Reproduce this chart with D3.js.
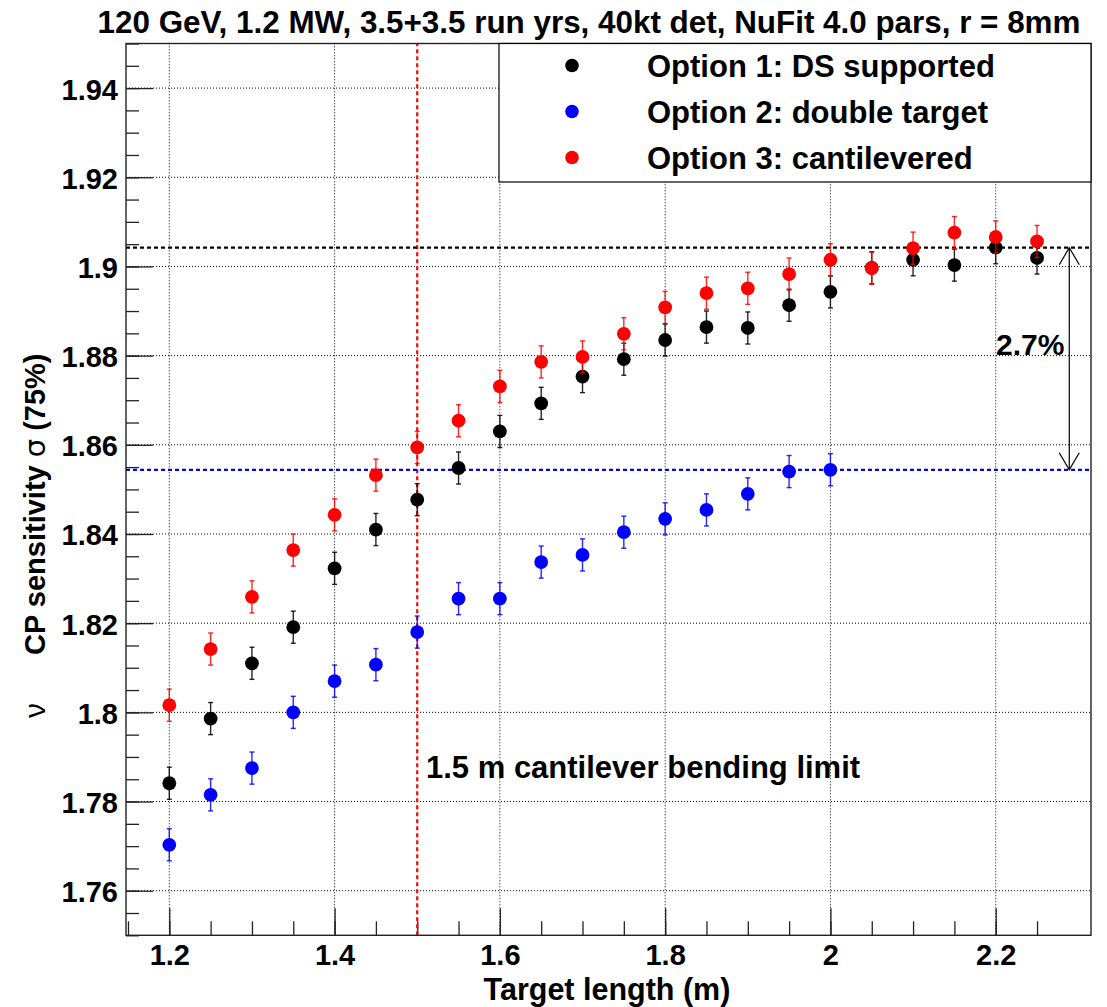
<!DOCTYPE html>
<html>
<head>
<meta charset="utf-8">
<script src="https://cdn.jsdelivr.net/npm/d3@7"></script>
<style>
  html, body { margin: 0; padding: 0; background: #fff; }
  svg { display: block; }
  text { font-family: "Liberation Sans", Arial, Helvetica, sans-serif; }
</style>
</head>
<body>
<div id="chart"></div>
<script>
// ---------------- DATA ----------------
const xOpt1 = [1.2, 1.25, 1.3, 1.35, 1.4, 1.45, 1.5, 1.55, 1.6, 1.65, 1.7, 1.75, 1.8, 1.85, 1.9, 1.95, 2.0, 2.05, 2.1, 2.15, 2.2, 2.25];
const yOpt1 = [1.7841, 1.7986, 1.8110, 1.8191, 1.8323, 1.8410, 1.8477, 1.8548, 1.8630, 1.8693, 1.8753, 1.8792, 1.8835, 1.8864, 1.8862, 1.8913, 1.8943, 1.8997, 1.9015, 1.9003, 1.9042, 1.9019];
const eOpt1 = [0.0036, 0.0036, 0.0036, 0.0036, 0.0036, 0.0036, 0.0036, 0.0036, 0.0036, 0.0036, 0.0036, 0.0036, 0.0036, 0.0036, 0.0036, 0.0036, 0.0036, 0.0036, 0.0036, 0.0036, 0.0036, 0.0036];

const xOpt2 = [1.2, 1.25, 1.3, 1.35, 1.4, 1.45, 1.5, 1.55, 1.6, 1.65, 1.7, 1.75, 1.8, 1.85, 1.9, 1.95, 2.0];
const yOpt2 = [1.7703, 1.7815, 1.7875, 1.8000, 1.8070, 1.8107, 1.8180, 1.8255, 1.8255, 1.8337, 1.8353, 1.8404, 1.8434, 1.8454, 1.8490, 1.8540, 1.8544];
const eOpt2 = [0.0036, 0.0036, 0.0036, 0.0036, 0.0036, 0.0036, 0.0036, 0.0036, 0.0036, 0.0036, 0.0036, 0.0036, 0.0036, 0.0036, 0.0036, 0.0036, 0.0036];

const xOpt3 = [1.2, 1.25, 1.3, 1.35, 1.4, 1.45, 1.5, 1.55, 1.6, 1.65, 1.7, 1.75, 1.8, 1.85, 1.9, 1.95, 2.0, 2.05, 2.1, 2.15, 2.2, 2.25];
const yOpt3 = [1.8016, 1.8142, 1.8259, 1.8364, 1.8443, 1.8532, 1.8594, 1.8654, 1.8731, 1.8786, 1.8797, 1.8849, 1.8908, 1.8940, 1.8951, 1.8983, 1.9015, 1.8996, 1.9041, 1.9076, 1.9066, 1.9056];
const eOpt3 = [0.0036, 0.0036, 0.0036, 0.0036, 0.0036, 0.0036, 0.0036, 0.0036, 0.0036, 0.0036, 0.0036, 0.0036, 0.0036, 0.0036, 0.0036, 0.0036, 0.0036, 0.0036, 0.0036, 0.0036, 0.0036, 0.0036];

const seriesNames = ["Option 1: DS supported", "Option 2: double target", "Option 3: cantilevered"];
const seriesColors = ["#000000", "#0000ff", "#ff0000"];

const xTickValues = [1.2, 1.4, 1.6, 1.8, 2.0, 2.2];
const xTickLabels = ["1.2", "1.4", "1.6", "1.8", "2", "2.2"];
const yTickValues = [1.76, 1.78, 1.80, 1.82, 1.84, 1.86, 1.88, 1.90, 1.92, 1.94];
const yTickLabels = ["1.76", "1.78", "1.8", "1.82", "1.84", "1.86", "1.88", "1.9", "1.92", "1.94"];

const titleText = "120 GeV, 1.2 MW, 3.5+3.5 run yrs, 40kt det, NuFit 4.0 pars, r = 8mm";
const xTitle = "Target length (m)";
const limitX = 1.5;
const limitText = "1.5 m cantilever bending limit";
const refOpt1 = 1.9042;
const refOpt2 = 1.8544;
const arrowX = 2.289;
const diffText = "2.7%";

// ---------------- LAYOUT ----------------
const W = 1107, H = 1007;
const frame = { left: 126, right: 1091, top: 43.5, bottom: 935.3 };

const svg = d3.select("#chart").append("svg")
  .attr("width", W).attr("height", H);

const x = d3.scaleLinear().domain([1.1476, 2.3153]).range([frame.left, frame.right]);
const y = d3.scaleLinear().domain([1.75, 1.95]).range([frame.bottom, frame.top]);

// Grid
const grid = svg.append("g").attr("class", "grid");
grid.selectAll("line.gx").data(xTickValues).enter().append("line")
  .attr("x1", d => x(d)).attr("x2", d => x(d))
  .attr("y1", frame.bottom).attr("y2", frame.top)
  .attr("stroke", "#000").attr("stroke-width", 1).attr("stroke-dasharray", "1,2");
grid.selectAll("line.gy").data(yTickValues).enter().append("line")
  .attr("x1", frame.left).attr("x2", frame.right)
  .attr("y1", d => y(d)).attr("y2", d => y(d))
  .attr("stroke", "#000").attr("stroke-width", 1).attr("stroke-dasharray", "1,2");

// Axes (ticks inside frame)
const xMinor = d3.range(23).map(i => +(1.15 + i * 0.05).toFixed(2)).filter(v => v <= 2.31);
const yMinor = d3.range(41).map(i => +(1.75 + i * 0.005).toFixed(3));

const xAxis = d3.axisBottom(x).tickValues(xTickValues)
  .tickFormat((d, i) => xTickLabels[i]).tickSizeInner(-27).tickSizeOuter(0).tickPadding(0);
const xAxisMinor = d3.axisBottom(x).tickValues(xMinor).tickFormat("").tickSizeInner(-14).tickSizeOuter(0);
const yAxis = d3.axisLeft(y).tickValues(yTickValues)
  .tickFormat((d, i) => yTickLabels[i]).tickSizeInner(-27).tickSizeOuter(0).tickPadding(0);
const yAxisMinor = d3.axisLeft(y).tickValues(yMinor).tickFormat("").tickSizeInner(-13).tickSizeOuter(0);

const gxm = svg.append("g").attr("transform", `translate(0,${frame.bottom})`).call(xAxisMinor);
const gx = svg.append("g").attr("transform", `translate(0,${frame.bottom})`).call(xAxis);
const gym = svg.append("g").attr("transform", `translate(${frame.left},0)`).call(yAxisMinor);
const gy = svg.append("g").attr("transform", `translate(${frame.left},0)`).call(yAxis);
[gxm, gx, gym, gy].forEach(g => {
  g.select(".domain").remove();
  g.selectAll(".tick line").attr("stroke", "#222").attr("stroke-width", 1.3);
});
gx.selectAll(".tick text")
  .attr("y", 30).attr("dy", 0)
  .attr("font-size", 29).attr("font-weight", "bold").attr("fill", "#000")
  .attr("font-family", "'Liberation Sans', Arial, sans-serif");
gy.selectAll(".tick text")
  .attr("x", -8).attr("dy", 11)
  .attr("font-size", 29).attr("font-weight", "bold").attr("fill", "#000")
  .attr("font-family", "'Liberation Sans', Arial, sans-serif");

// Reference lines
svg.append("line")
  .attr("x1", x(limitX)).attr("x2", x(limitX))
  .attr("y1", frame.bottom).attr("y2", frame.top)
  .attr("stroke", "#ff0000").attr("stroke-width", 2.2).attr("stroke-dasharray", "4,3");
svg.append("line")
  .attr("x1", frame.left).attr("x2", frame.right)
  .attr("y1", y(refOpt1)).attr("y2", y(refOpt1))
  .attr("stroke", "#000").attr("stroke-width", 2.2).attr("stroke-dasharray", "4,3");
svg.append("line")
  .attr("x1", frame.left).attr("x2", frame.right)
  .attr("y1", y(refOpt2)).attr("y2", y(refOpt2))
  .attr("stroke", "#0000ff").attr("stroke-width", 2.2).attr("stroke-dasharray", "4,3");

// Data series
const series = [
  { xs: xOpt1, ys: yOpt1, es: eOpt1, color: seriesColors[0] },
  { xs: xOpt2, ys: yOpt2, es: eOpt2, color: seriesColors[1] },
  { xs: xOpt3, ys: yOpt3, es: eOpt3, color: seriesColors[2] }
];
series.forEach(s => {
  const pts = s.xs.map((xv, i) => ({ x: xv, y: s.ys[i], e: s.es[i] }));
  const g = svg.append("g");
  const eb = g.selectAll("g.eb").data(pts).enter().append("g");
  eb.append("line")
    .attr("x1", d => x(d.x)).attr("x2", d => x(d.x))
    .attr("y1", d => y(d.y - d.e)).attr("y2", d => y(d.y + d.e))
    .attr("stroke", s.color).attr("stroke-width", 1.4).attr("stroke-opacity", 0.85);
  eb.append("line")
    .attr("x1", d => x(d.x) - 2.5).attr("x2", d => x(d.x) + 2.5)
    .attr("y1", d => y(d.y + d.e)).attr("y2", d => y(d.y + d.e))
    .attr("stroke", s.color).attr("stroke-width", 1.4).attr("stroke-opacity", 0.85);
  eb.append("line")
    .attr("x1", d => x(d.x) - 2.5).attr("x2", d => x(d.x) + 2.5)
    .attr("y1", d => y(d.y - d.e)).attr("y2", d => y(d.y - d.e))
    .attr("stroke", s.color).attr("stroke-width", 1.4).attr("stroke-opacity", 0.85);
  g.selectAll("circle").data(pts).enter().append("circle")
    .attr("cx", d => x(d.x)).attr("cy", d => y(d.y)).attr("r", 6.9)
    .attr("fill", s.color);
});

// Double arrow
const ax = x(arrowX), ay1 = y(refOpt1), ay2 = y(refOpt2);
svg.append("line").attr("x1", ax).attr("x2", ax).attr("y1", ay1).attr("y2", ay2)
  .attr("stroke", "#000").attr("stroke-width", 1.2);
svg.append("path")
  .attr("d", `M${ax - 10},${ay1 + 17} L${ax},${ay1} L${ax + 10},${ay1 + 17}`)
  .attr("fill", "none").attr("stroke", "#000").attr("stroke-width", 1.2);
svg.append("path")
  .attr("d", `M${ax - 10},${ay2 - 17} L${ax},${ay2} L${ax + 10},${ay2 - 17}`)
  .attr("fill", "none").attr("stroke", "#000").attr("stroke-width", 1.2);
svg.append("text").attr("x", 996).attr("y", 355)
  .attr("font-size", 30).attr("font-weight", "bold").text(diffText);

// Limit annotation
svg.append("text").attr("x", 426).attr("y", 778)
  .attr("font-size", 31).attr("font-weight", "bold").text(limitText);

// Frame
svg.append("rect")
  .attr("x", frame.left).attr("y", frame.top)
  .attr("width", frame.right - frame.left).attr("height", frame.bottom - frame.top)
  .attr("fill", "none").attr("stroke", "#222").attr("stroke-width", 1.4);

// Legend
const leg = svg.append("g");
leg.append("rect").attr("x", 499).attr("y", frame.top)
  .attr("width", frame.right - 499).attr("height", 182 - frame.top)
  .attr("fill", "#fff").attr("stroke", "#000").attr("stroke-width", 1.2);
seriesNames.forEach((name, i) => {
  const cy = 65.5 + i * 46;
  leg.append("circle").attr("cx", 572).attr("cy", cy).attr("r", 6.8).attr("fill", seriesColors[i]);
  leg.append("text").attr("x", 647).attr("y", cy + 11)
    .attr("font-size", 31).attr("font-weight", "bold").text(name);
});

// Title
svg.append("text").attr("x", 589).attr("y", 33)
  .attr("text-anchor", "middle").attr("font-size", 31.4).attr("font-weight", "bold")
  .text(titleText);

// X title
svg.append("text").attr("x", 607).attr("y", 1000)
  .attr("text-anchor", "middle").attr("font-size", 30.5).attr("font-weight", "bold")
  .text(xTitle);

// Y title (rotated)
const yt = svg.append("g").attr("transform", "translate(45,718) rotate(-90)");
yt.append("text").attr("x", 0).attr("y", 0)
  .attr("font-size", 30).attr("font-family", "'DejaVu Sans', sans-serif").text("ν");
const yt2 = yt.append("text").attr("x", 63).attr("y", 0).attr("font-size", 29);
yt2.append("tspan").attr("font-weight", "bold").text("CP sensitivity ");
yt2.append("tspan").attr("font-family", "'DejaVu Sans', sans-serif").text("σ");
yt2.append("tspan").attr("font-weight", "bold").text(" (75%)");
</script>
</body>
</html>
